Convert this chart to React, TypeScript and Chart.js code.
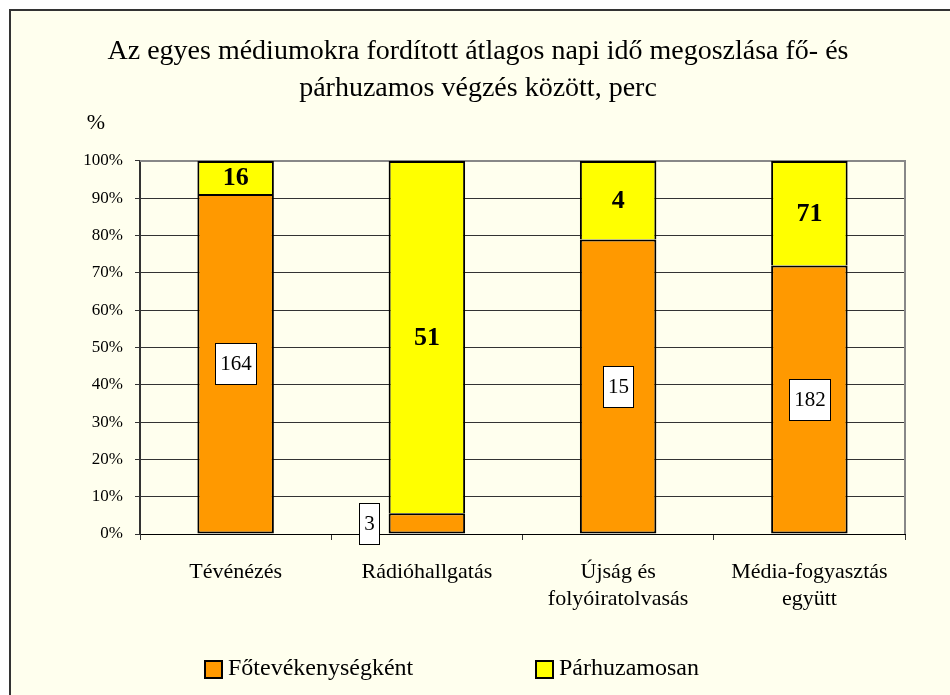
import { useEffect, useRef } from 'react';
import { Chart, registerables } from 'chart.js';

Chart.register(...registerables);

const titleLines = [
  'Az egyes médiumokra fordított átlagos napi idő megoszlása fő- és',
  'párhuzamos végzés között, perc',
];
const categories = [
  ['Tévénézés'],
  ['Rádióhallgatás'],
  ['Újság és', 'folyóiratolvasás'],
  ['Média-fogyasztás', 'együtt'],
];
const seriesNames = ['Főtevékenységként', 'Párhuzamosan'];
const mainMinutes = [164, 3, 15, 182];
const parallelMinutes = [16, 51, 4, 71];
const yAxisUnit = '%';

const mainShare = mainMinutes.map((v, i) => (v / (v + parallelMinutes[i])) * 100);
const parallelShare = parallelMinutes.map((v, i) => (v / (v + mainMinutes[i])) * 100);

const FONT = "'Liberation Serif', 'Times New Roman', serif";
const ORANGE = '#FF9900';
const YELLOW = '#FFFF00';
const CREAM = '#FFFFEE';

const framePlugin = {
  id: 'frame',
  beforeDraw(chart: any) {
    const { ctx, width, height } = chart;
    ctx.save();
    ctx.fillStyle = '#ffffff';
    ctx.fillRect(0, 0, width, height);
    ctx.fillStyle = CREAM;
    ctx.fillRect(10, 10, width - 10, height - 10);
    ctx.strokeStyle = '#333333';
    ctx.lineWidth = 2;
    ctx.beginPath();
    ctx.moveTo(10, height);
    ctx.lineTo(10, 10);
    ctx.lineTo(width, 10);
    ctx.stroke();
    ctx.restore();
  },
  beforeDatasetsDraw(chart: any) {
    const { ctx, chartArea } = chart;
    ctx.save();
    ctx.strokeStyle = '#888888';
    ctx.lineWidth = 2;
    ctx.beginPath();
    ctx.moveTo(chartArea.left, chartArea.top);
    ctx.lineTo(chartArea.right, chartArea.top);
    ctx.lineTo(chartArea.right, chartArea.bottom);
    ctx.stroke();
    ctx.restore();
  },
};

const labelPlugin = {
  id: 'segLabels',
  afterDatasetsDraw(chart: any) {
    const { ctx } = chart;
    ctx.save();
    ctx.textAlign = 'center';
    ctx.textBaseline = 'middle';
    const meta0 = chart.getDatasetMeta(0);
    meta0.data.forEach((bar: any, i: number) => {
      const { x, y, base, width } = bar.getProps(['x', 'y', 'base', 'width'], true);
      const cy = (y + base) / 2;
      const text = String(mainMinutes[i]);
      ctx.font = `21px ${FONT}`;
      const tw = ctx.measureText(text).width;
      const bw = Math.round(tw + 9);
      const bh = 41;
      let bx = Math.round(x - bw / 2);
      if (Math.abs(base - y) < bh) bx = Math.round(x - width / 2 - 10 - bw);
      const by = Math.round(cy - bh / 2);
      ctx.fillStyle = '#ffffff';
      ctx.fillRect(bx, by, bw, bh);
      ctx.strokeStyle = '#000000';
      ctx.lineWidth = 1;
      ctx.strokeRect(bx + 0.5, by + 0.5, bw, bh);
      ctx.fillStyle = '#000000';
      ctx.fillText(text, bx + bw / 2 + 0.5, cy + 1);
    });
    const meta1 = chart.getDatasetMeta(1);
    meta1.data.forEach((bar: any, i: number) => {
      const { x, y, base } = bar.getProps(['x', 'y', 'base'], true);
      ctx.font = `bold 26px ${FONT}`;
      ctx.fillStyle = '#000000';
      ctx.fillText(String(parallelMinutes[i]), x, (y + base) / 2 + 1);
    });
    ctx.restore();
  },
  afterDraw(chart: any) {
    const { ctx } = chart;
    ctx.save();
    ctx.font = `22px ${FONT}`;
    ctx.fillStyle = '#000000';
    ctx.textAlign = 'center';
    ctx.textBaseline = 'middle';
    ctx.fillText(yAxisUnit, 96, 123);
    const colors = [ORANGE, YELLOW];
    const starts = [205, 536];
    ctx.font = `24px ${FONT}`;
    ctx.textAlign = 'left';
    seriesNames.forEach((name, i) => {
      const bx = starts[i];
      const by = 661;
      ctx.fillStyle = colors[i];
      ctx.fillRect(bx, by, 17, 17);
      ctx.strokeStyle = '#000000';
      ctx.lineWidth = 2;
      ctx.strokeRect(bx, by, 17, 17);
      ctx.fillStyle = '#000000';
      ctx.fillText(name, bx + 23, by + 8);
    });
    ctx.restore();
  },
};

export default function App() {
  const ref = useRef<HTMLCanvasElement | null>(null);
  useEffect(() => {
    if (!ref.current) return;
    Chart.defaults.font.family = FONT;
    const chart = new Chart(ref.current, {
      type: 'bar',
      data: {
        labels: categories as any,
        datasets: [
          {
            label: seriesNames[0],
            data: mainShare,
            backgroundColor: ORANGE,
            borderColor: '#000000',
            borderWidth: 2,
            borderSkipped: false,
            barPercentage: 0.4,
            categoryPercentage: 1.0,
          },
          {
            label: seriesNames[1],
            data: parallelShare,
            backgroundColor: YELLOW,
            borderColor: '#000000',
            borderWidth: 2,
            borderSkipped: 'start',
            barPercentage: 0.4,
            categoryPercentage: 1.0,
          },
        ],
      },
      options: {
        responsive: false,
        animation: false,
        devicePixelRatio: 1,
        layout: { padding: { left: 51, right: 45, top: 10, bottom: 0 } },
        plugins: {
          legend: { display: false },
          tooltip: { enabled: false },
          title: {
            display: true,
            text: titleLines,
            color: '#000000',
            font: { family: FONT, size: 28, weight: 'normal', lineHeight: 1.32 },
            padding: { top: 23, bottom: 54 },
          },
        },
        scales: {
          x: {
            stacked: true,
            grid: {
              offset: true,
              drawOnChartArea: false,
              drawTicks: true,
              tickLength: 6,
              color: '#333333',
            },
            border: { display: true, color: '#000000', width: 1 },
            ticks: {
              color: '#000000',
              font: { family: FONT, size: 22, lineHeight: 1.25 },
              padding: 18,
              maxRotation: 0,
              autoSkip: false,
            },
            afterFit(scale: any) {
              scale.height = 161;
            },
          },
          y: {
            stacked: true,
            min: 0,
            max: 100,
            grid: {
              color: (c: any) => (c.tick && c.tick.value === 100 ? 'rgba(0,0,0,0)' : '#333333'),
              tickColor: '#333333',
              tickLength: 5,
              lineWidth: 1,
            },
            border: { display: true, color: '#333333', width: 2 },
            ticks: {
              stepSize: 10,
              color: '#000000',
              font: { family: FONT, size: 17 },
              padding: 12,
              callback: (v: any) => `${v}%`,
            },
            afterFit(scale: any) {
              scale.width = 89;
            },
          },
        },
      },
      plugins: [framePlugin, labelPlugin],
    });
    return () => chart.destroy();
  }, []);
  return (
    <div style={{ position: 'fixed', left: 0, top: 0, width: 950, height: 695 }}>
      <canvas ref={ref} width={950} height={695} style={{ display: 'block' }} />
    </div>
  );
}
